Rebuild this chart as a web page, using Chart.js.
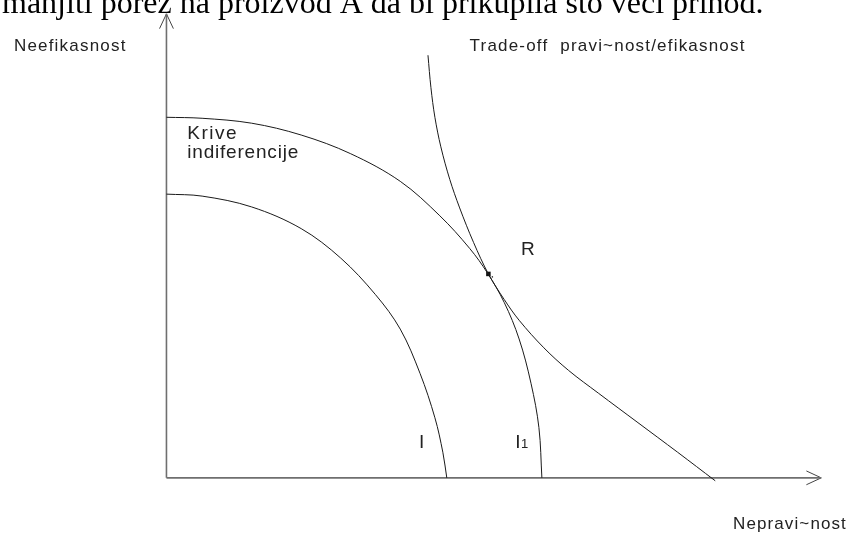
<!DOCTYPE html>
<html>
<head>
<meta charset="utf-8">
<script src="https://cdn.jsdelivr.net/npm/chart.js@4.4.0/dist/chart.umd.min.js"></script>
<style>
  body { margin: 0; background: #fff; }
  #wrap { width: 850px; height: 538px; }
</style>
</head>
<body>
<div id="wrap"><canvas id="diagram" width="850" height="538"></canvas></div>
<script>
// points: x = Nepravičnost, y = Neefikasnost
const curveI_x = [0, 36, 86, 136, 176, 211, 236, 256, 271, 279, 283];
const curveI_y = [288, 286, 275, 253, 223, 186, 151, 106, 61, 26, 0];

const curveI1_x = [0, 36, 86, 136, 186, 236, 276, 306, 324, 341, 356, 368, 376, 379];
const curveI1_y = [366, 365, 360, 348, 329, 301, 266, 233, 208, 178, 141, 96, 51, 0];

const tradeoff_x = [264, 267, 271, 277, 286, 296, 310, 325, 341, 356, 381, 406, 436, 476, 516, 554];
const tradeoff_y = [429, 396, 366, 336, 303, 274, 239, 207, 181, 160, 132, 109, 86, 56, 26, -3];

const pointR = [325, 207];

// axes with arrow heads
const yAxisTop = 471;
const xAxisEnd = 661;
const arrowLen = 15;
const arrowHalf = 7;

const toPts = (xs, ys) => xs.map((x, i) => ({ x: x, y: ys[i] }));

const textLabels = [
  { text: 'Neefikasnost', x: -154, y: 433, size: 17, sp: 1.2 },
  { text: 'Trade-off  pravi~nost/efikasnost', x: 306, y: 433, size: 17, sp: 1.2 },
  { text: 'Krive', x: 21, y: 344, size: 19, sp: 1.5 },
  { text: 'indiferencije', x: 21, y: 325, size: 19, sp: 0.8 },
  { text: 'R', x: 358, y: 226, size: 19, sp: 0 },
  { text: 'I', x: 255, y: 30, size: 19, sp: 0 },
  { text: 'I', x: 352, y: 30, size: 19, sp: 0 },
  { text: '1', x: 358, y: 30, size: 13, sp: 0 },
  { text: 'Nepravi~nost', x: 572, y: -52, size: 17, sp: 1.1 }
];
const topLine = 'manjiti porez na proizvod A da bi prikupila što veći prihod.';

const labelPlugin = {
  id: 'labels',
  afterDatasetsDraw(chart) {
    const ctx = chart.ctx;
    const sx = chart.scales.x, sy = chart.scales.y;
    ctx.save();
    ctx.fillStyle = '#222';
    ctx.textBaseline = 'alphabetic';
    textLabels.forEach((l) => {
      ctx.font = l.size + 'px "Liberation Sans", Arial, sans-serif';
      ctx.letterSpacing = l.sp + 'px';
      ctx.fillText(l.text, sx.getPixelForValue(l.x), sy.getPixelForValue(l.y));
    });
    ctx.letterSpacing = '0px';
    ctx.fillStyle = '#000';
    ctx.font = '32px "Liberation Serif", "Times New Roman", serif';
    ctx.fillText(topLine, sx.getPixelForValue(-166), sy.getPixelForValue(472));
    ctx.restore();
  }
};

const curveStyle = {
  showLine: true,
  borderColor: '#1a1a1a',
  borderWidth: 1,
  pointRadius: 0,
  tension: 0.35,
  fill: false
};
const axisStyle = {
  showLine: true,
  borderColor: '#6f6f6f',
  borderWidth: 1.6,
  pointRadius: 0,
  tension: 0,
  fill: false
};
const arrowStyle = {
  showLine: true,
  borderColor: '#444',
  borderWidth: 1,
  pointRadius: 0,
  tension: 0,
  fill: false
};

const ctx = document.getElementById('diagram').getContext('2d');
new Chart(ctx, {
  type: 'scatter',
  data: {
    datasets: [
      Object.assign({ label: 'I', data: toPts(curveI_x, curveI_y) }, curveStyle),
      Object.assign({ label: 'I1', data: toPts(curveI1_x, curveI1_y) }, curveStyle),
      Object.assign({ label: 'Trade-off', data: toPts(tradeoff_x, tradeoff_y) }, curveStyle),
      Object.assign({ label: 'y os', data: [{ x: 0, y: 0 }, { x: 0, y: yAxisTop }] }, axisStyle),
      Object.assign({ label: 'x os', data: [{ x: 0, y: 0 }, { x: xAxisEnd, y: 0 }] }, axisStyle),
      Object.assign({ label: 'y strelica', data: [
        { x: -arrowHalf, y: yAxisTop - arrowLen }, { x: 0, y: yAxisTop }, { x: arrowHalf, y: yAxisTop - arrowLen }
      ] }, arrowStyle),
      Object.assign({ label: 'x strelica', data: [
        { x: xAxisEnd - arrowLen, y: arrowHalf }, { x: xAxisEnd, y: 0 }, { x: xAxisEnd - arrowLen, y: -arrowHalf }
      ] }, arrowStyle),
      {
        label: 'R',
        data: [{ x: pointR[0], y: pointR[1] }],
        pointStyle: 'rect',
        pointRadius: 3.2,
        backgroundColor: '#111',
        borderColor: '#111',
        borderWidth: 0
      },
      {
        label: 'R tocka',
        data: [{ x: pointR[0] + 4, y: pointR[1] - 3 }],
        pointRadius: 0.8,
        backgroundColor: '#333',
        borderWidth: 0
      }
    ]
  },
  options: {
    responsive: false,
    animation: false,
    layout: { padding: 0 },
    plugins: { legend: { display: false }, tooltip: { enabled: false } },
    scales: {
      x: { type: 'linear', min: -164, max: 686, display: false },
      y: { type: 'linear', min: -57, max: 481, display: false }
    }
  },
  plugins: [labelPlugin]
});
</script>
</body>
</html>
